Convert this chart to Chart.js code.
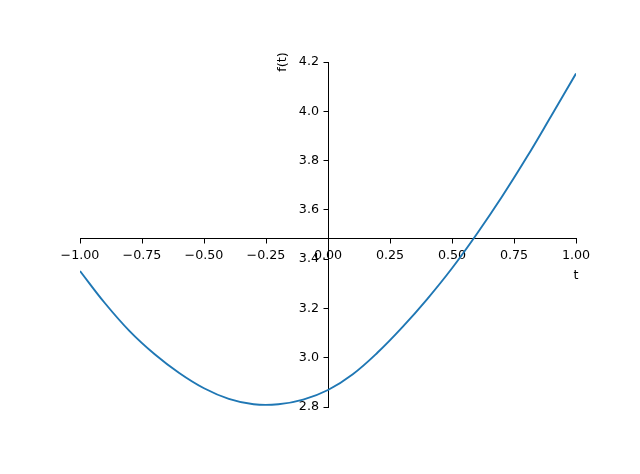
<!DOCTYPE html>
<html>
<head>
<meta charset="utf-8">
<script src="https://cdn.jsdelivr.net/npm/chart.js@4.4.0/dist/chart.umd.min.js"></script>
<style>
html,body{margin:0;padding:0;background:#fff;}
#c{display:block;}
</style>
</head>
<body>
<canvas id="c" width="640" height="474"></canvas>
<script>
const tValues = [-1.0, -0.9, -0.8, -0.7, -0.6, -0.5, -0.4, -0.3, -0.2, -0.1, 0.0, 0.1, 0.2, 0.3, 0.4, 0.5, 0.6, 0.7, 0.8, 0.9, 1.0];
const fValues = [3.352, 3.222, 3.108, 3.015, 2.938, 2.876, 2.833, 2.811, 2.811, 2.830, 2.869, 2.933, 3.021, 3.124, 3.238, 3.363, 3.502, 3.651, 3.811, 3.981, 4.153];
const xTicks = [-1.0, -0.75, -0.5, -0.25, 0.0, 0.25, 0.5, 0.75, 1.0];
const yTicks = [2.8, 3.0, 3.2, 3.4, 3.6, 3.8, 4.0, 4.2];
const xAxisAt = 3.482;   // y value where the horizontal spine sits (axes centre)
const xLabel = 't';
const yLabel = 'f(t)';

const FONT = '"DejaVu Sans", "Liberation Sans", sans-serif';
const FS = 12.7;

const points = tValues.map((t, i) => ({x: t, y: fValues[i]}));

const labelPlugin = {
  id: 'axisLabels',
  beforeDraw(chart) {
    // move y tick labels to the left of the tick marks (centred spine)
    if (chart.$shifted) return;
    const items = chart.scales.y.getLabelItems();
    items.forEach(it => { it.options.translation[0] -= 9; });
    chart.$shifted = true;
  },
  afterDraw(chart) {
    const ctx = chart.ctx;
    const xs = chart.scales.x, ys = chart.scales.y;
    ctx.save();
    ctx.fillStyle = '#000';
    ctx.font = FS + 'px ' + FONT;
    ctx.textAlign = 'center';
    ctx.textBaseline = 'middle';
    ctx.fillText(xLabel, xs.right, ys.getPixelForValue(xAxisAt) + 37);
    ctx.translate(xs.getPixelForValue(0) - 45, ys.top);
    ctx.rotate(-Math.PI / 2);
    ctx.fillText(yLabel, 0, 0);
    ctx.restore();
  }
};

new Chart(document.getElementById('c'), {
  type: 'line',
  data: {
    datasets: [{
      data: points,
      borderColor: '#1f77b4',
      borderWidth: 1.9,
      pointRadius: 0,
      fill: false,
      tension: 0.4
    }]
  },
  options: {
    responsive: false,
    animation: false,
    devicePixelRatio: 1,
    layout: {padding: {left: 80, right: 64, top: 62, bottom: 67}},
    plugins: {legend: {display: false}, tooltip: {enabled: false}},
    scales: {
      x: {
        type: 'linear',
        position: {y: xAxisAt},
        min: -1, max: 1,
        afterFit(s) { s.height = 0; },
        afterBuildTicks(s) { s.ticks = xTicks.map(v => ({value: v})); },
        grid: {display: true, drawOnChartArea: false, drawTicks: true, tickLength: 4.5, color: '#000', lineWidth: 1},
        border: {display: true, color: '#000', width: 1},
        ticks: {
          autoSkip: false, maxRotation: 0, minRotation: 0, padding: 5,
          color: '#000', font: {family: FONT, size: FS},
          callback: v => v.toFixed(2).replace('-', '\u2212')
        }
      },
      y: {
        type: 'linear',
        position: {x: 0},
        min: 2.8, max: 4.2,
        afterFit(s) { s.width = 0; },
        afterBuildTicks(s) { s.ticks = yTicks.map(v => ({value: v})); },
        grid: {display: true, drawOnChartArea: false, drawTicks: true, tickLength: 4.5, color: '#000', lineWidth: 1},
        border: {display: true, color: '#000', width: 1},
        ticks: {
          autoSkip: false, padding: 4,
          color: '#000', font: {family: FONT, size: FS},
          callback: v => v.toFixed(1)
        }
      }
    }
  },
  plugins: [labelPlugin]
});
</script>
</body>
</html>
